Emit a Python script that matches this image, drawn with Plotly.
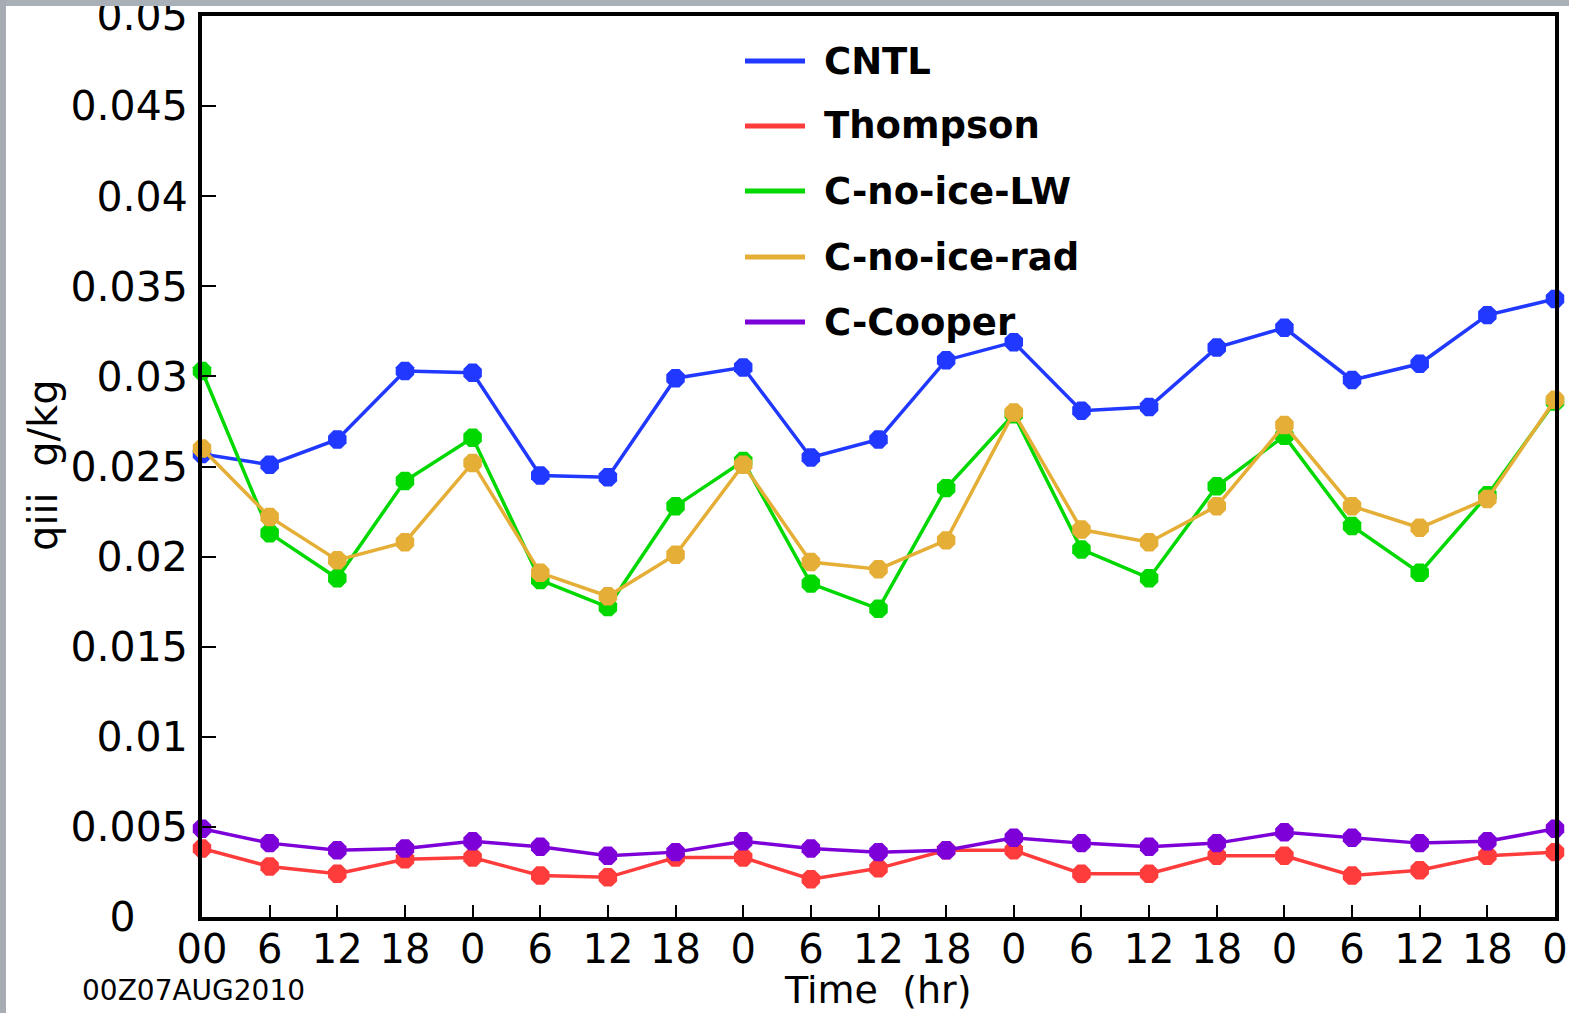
import plotly.graph_objects as go

hours = list(range(0, 121, 6))
tick_text = ["00", "6", "12", "18", "0", "6", "12", "18", "0", "6", "12", "18",
             "0", "6", "12", "18", "0", "6", "12", "18", "0"]
y_ticks = [0, 0.005, 0.01, 0.015, 0.02, 0.025, 0.03, 0.035, 0.04, 0.045, 0.05]
y_tick_text = ["0\u00a0\u00a0\u00a0\u00a0", "0.005", "0.01", "0.015", "0.02", "0.025", "0.03",
               "0.035", "0.04", "0.045", "0.05"]

series_names = ["CNTL", "Thompson", "C-no-ice-LW", "C-no-ice-rad", "C-Cooper"]
series_colors = ["#2038ff", "#ff3c3c", "#00d800", "#e5ae36", "#7d00d9"]

cntl = [0.0257, 0.0251, 0.0265, 0.0303, 0.0302, 0.0245, 0.0244, 0.0299, 0.0305, 0.0255, 0.0265,
        0.0309, 0.0319, 0.0281, 0.0283, 0.0316, 0.0327, 0.0298, 0.0307, 0.0334, 0.0343]
thompson = [0.0038, 0.0028, 0.0024, 0.0032, 0.0033, 0.0023, 0.0022, 0.0033, 0.0033, 0.0021, 0.0027,
            0.0037, 0.0037, 0.0024, 0.0024, 0.0034, 0.0034, 0.0023, 0.0026, 0.0034, 0.0036]
no_ice_lw = [0.0303, 0.0213, 0.0188, 0.0242, 0.0266, 0.0187, 0.0172, 0.0228, 0.0253, 0.0185, 0.0171,
             0.0238, 0.0279, 0.0204, 0.0188, 0.0239, 0.0267, 0.0217, 0.0191, 0.0234, 0.0286]
no_ice_rad = [0.0260, 0.0222, 0.0198, 0.0208, 0.0252, 0.0191, 0.0178, 0.0201, 0.0251, 0.0197, 0.0193,
              0.0209, 0.0280, 0.0215, 0.0208, 0.0228, 0.0273, 0.0228, 0.0216, 0.0232, 0.0287]
cooper = [0.0049, 0.0041, 0.0037, 0.0038, 0.0042, 0.0039, 0.0034, 0.0036, 0.0042, 0.0038, 0.0036,
          0.0037, 0.0044, 0.0041, 0.0039, 0.0041, 0.0047, 0.0044, 0.0041, 0.0042, 0.0049]

all_series = [cntl, thompson, no_ice_lw, no_ice_rad, cooper]

FONT = "DejaVu Sans"
W, H = 1569, 1013
ML, MR, MT, MB = 202, 14, 16, 96
PW, PH = W - ML - MR, H - MT - MB


def px(x):
    return (x - ML) / PW


def py(y):
    return (H - MB - y) / PH


fig = go.Figure()
for name, color, vals in zip(series_names, series_colors, all_series):
    fig.add_trace(go.Scatter(
        x=hours, y=vals, name=name, mode="lines+markers",
        line=dict(color=color, width=3.5),
        marker=dict(color=color, size=20, symbol="octagon", line=dict(width=0)),
        cliponaxis=False, showlegend=False))

shapes = []
annotations = []
# legend drawn with long line samples like the reference
row_y = [61, 126, 191, 257, 322]
for name, color, ry in zip(series_names, series_colors, row_y):
    shapes.append(dict(type="line", xref="paper", yref="paper",
                       x0=px(745), x1=px(805), y0=py(ry), y1=py(ry),
                       line=dict(color=color, width=5)))
    annotations.append(dict(text=name, xref="paper", yref="paper", x=px(822), y=py(ry),
                            xanchor="left", yanchor="middle", showarrow=False,
                            font=dict(family=FONT, size=37, color="black", weight="bold")))

annotations.append(dict(text="qiii  g/kg", xref="paper", yref="paper", x=px(43), y=py(465),
                        xanchor="center", yanchor="middle", textangle=-90, showarrow=False,
                        font=dict(family=FONT, size=40, color="black")))
annotations.append(dict(text="Time  (hr)", xref="paper", yref="paper", x=px(878), y=py(990),
                        xanchor="center", yanchor="middle", showarrow=False,
                        font=dict(family=FONT, size=38, color="black")))
annotations.append(dict(text="00Z07AUG2010", xref="paper", yref="paper", x=px(80), y=py(990),
                        xanchor="left", yanchor="middle", showarrow=False,
                        font=dict(family=FONT, size=28, color="black")))

# window frame (gray strips on top and left)
shapes.append(dict(type="rect", xref="paper", yref="paper", x0=px(0), x1=px(W), y0=py(0), y1=py(6),
                   fillcolor="#a9b0b8", line=dict(width=0), layer="above"))
shapes.append(dict(type="rect", xref="paper", yref="paper", x0=px(0), x1=px(6), y0=py(0), y1=py(H),
                   fillcolor="#a6acb2", line=dict(width=0), layer="above"))

fig.update_layout(
    width=W, height=H,
    margin=dict(l=ML, r=MR, t=MT, b=MB, autoexpand=False),
    paper_bgcolor="white", plot_bgcolor="white",
    font=dict(family=FONT, size=41, color="black"),
    shapes=shapes, annotations=annotations,
    showlegend=False,
)
fig.update_xaxes(range=[0, 120], tickvals=hours, ticktext=tick_text, ticks="inside",
                 ticklen=12, tickwidth=2, tickcolor="black", showgrid=False, zeroline=False,
                 showline=True, linecolor="black", linewidth=4, mirror=True,
                 tickfont=dict(family=FONT, size=40), ticklabelstandoff=-6,
                 ticklabeloverflow="allow", automargin=False)
fig.update_yaxes(range=[0, 0.05], tickvals=y_ticks, ticktext=y_tick_text, ticks="inside",
                 ticklen=14, tickwidth=2, tickcolor="black", showgrid=False, zeroline=False,
                 showline=True, linecolor="black", linewidth=4, mirror=True,
                 tickfont=dict(family=FONT, size=41), ticklabelstandoff=2,
                 ticklabeloverflow="allow", automargin=False)

fig.write_html("out.html", config={"displayModeBar": False},
               post_script="document.body.style.margin='0';document.body.style.overflow='hidden';")
